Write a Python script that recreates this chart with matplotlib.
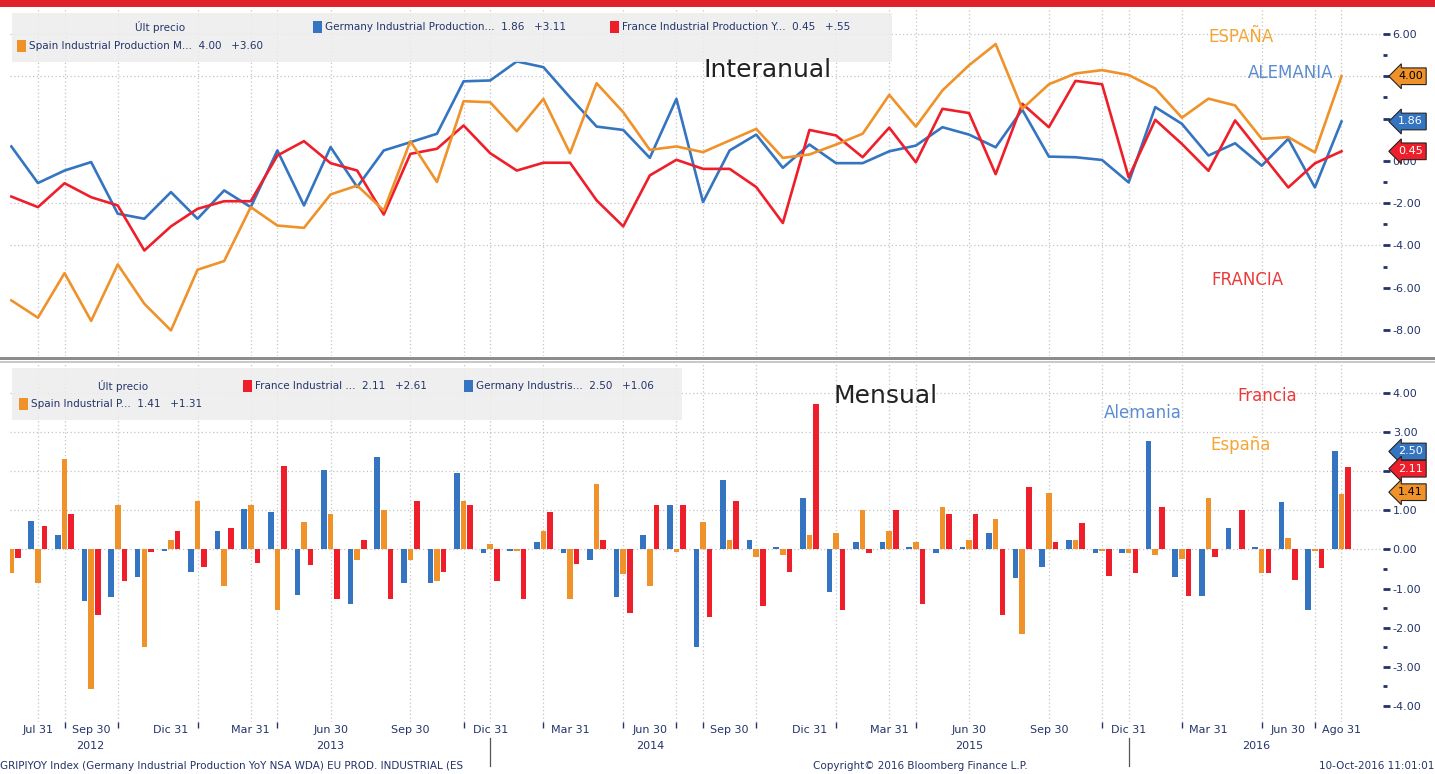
import matplotlib
matplotlib.use('Agg')
import matplotlib.pyplot as plt
from matplotlib.patches import Rectangle
from matplotlib.transforms import blended_transform_factory
import numpy as np

# monthly data, Jun 2012 .. Aug 2016 (index 0 .. 50)
germany_yoy = [0.68, -1.05, -0.46, -0.06, -2.5, -2.74, -1.48, -2.74, -1.4, -2.19,
               0.49, -2.11, 0.65, -1.24, 0.49, 0.88, 1.28, 3.76, 3.8, 4.7,
               4.43, 3.0, 1.62, 1.46, 0.14, 2.93, -1.95, 0.49, 1.24, -0.33,
               0.77, -0.11, -0.11, 0.45, 0.72, 1.59, 1.24, 0.64, 2.42, 0.2,
               0.17, 0.04, -1.02, 2.54, 1.75, 0.25, 0.83, -0.23, 1.04, -1.26, 1.86]
france_yoy = [-1.69, -2.19, -1.06, -1.72, -2.11, -4.24, -3.1, -2.27, -1.91, -1.91,
              0.25, 0.93, -0.11, -0.46, -2.54, 0.33, 0.57, 1.67, 0.36, -0.46,
              -0.09, -0.09, -1.87, -3.1, -0.69, 0.05, -0.38, -0.38, -1.24, -2.94,
              1.46, 1.2, 0.17, 1.57, -0.07, 2.46, 2.26, -0.63, 2.7, 1.59,
              3.78, 3.62, -0.78, 1.94, 0.8, -0.47, 1.91, 0.32, -1.26, -0.12, 0.45]
spain_yoy = [-6.6, -7.42, -5.31, -7.57, -4.9, -6.76, -8.02, -5.15, -4.74, -2.19,
             -3.06, -3.17, -1.59, -1.17, -2.35, 0.93, -1.0, 2.82, 2.77, 1.4,
             2.93, 0.36, 3.67, 2.3, 0.52, 0.68, 0.41, 0.96, 1.51, 0.14,
             0.3, 0.77, 1.28, 3.12, 1.62, 3.33, 4.52, 5.52, 2.46, 3.62,
             4.13, 4.29, 4.06, 3.42, 2.04, 2.94, 2.62, 1.04, 1.12, 0.4, 4.0]

germany_mom = [0.3, 0.73, 0.37, -1.33, -1.22, -0.7, -0.03, -0.57, 0.48, 1.02,
               0.96, -1.16, 2.02, -1.39, 2.36, -0.87, -0.87, 1.95, -0.1, -0.04,
               0.19, -0.1, -0.27, -1.22, 0.37, 1.13, -2.5, 1.78, 0.24, 0.07,
               1.3, -1.09, 0.19, 0.19, 0.07, -0.1, 0.07, 0.42, -0.74, -0.45,
               0.23, -0.1, -0.1, 2.78, -0.7, -1.2, 0.55, 0.05, 1.2, -1.55, 2.5]
spain_mom = [-0.61, -0.87, 2.3, -3.57, 1.13, -2.5, 0.24, 1.24, -0.93, 1.13,
             -1.56, 0.71, 0.9, -0.27, 1.0, -0.27, -0.81, 1.24, 0.14, -0.03,
             0.48, -1.27, 1.66, -0.63, -0.93, -0.08, 0.71, 0.24, -0.2, -0.14,
             0.37, 0.42, 1.0, 0.48, 0.19, 1.07, 0.24, 0.77, -2.16, 1.43,
             0.23, -0.05, -0.1, -0.15, -0.25, 1.3, 0.02, -0.6, 0.3, -0.05, 1.41]
france_mom = [-0.21, 0.6, 0.9, -1.68, -0.81, -0.06, 0.48, -0.46, 0.54, -0.34,
              2.12, -0.4, -1.27, 0.24, -1.27, 1.24, -0.57, 1.13, -0.81, -1.27,
              0.96, -0.38, 0.24, -1.63, 1.13, 1.13, -1.74, 1.24, -1.44, -0.57,
              3.7, -1.56, -0.1, 1.0, -1.39, 0.9, 0.9, -1.68, 1.6, 0.2,
              0.67, -0.68, -0.6, 1.08, -1.2, -0.2, 1.0, -0.6, -0.78, -0.48, 2.11]

tick_months = [1, 3, 6, 9, 12, 15, 18, 21, 24, 27, 30, 33, 36, 39, 42, 45, 48, 50]
tick_labels = ['Jul 31', 'Sep 30', 'Dic 31', 'Mar 31', 'Jun 30', 'Sep 30', 'Dic 31',
               'Mar 31', 'Jun 30', 'Sep 30', 'Dic 31', 'Mar 31', 'Jun 30', 'Sep 30',
               'Dic 31', 'Mar 31', 'Jun 30', 'Ago 31']
grid_months = [1, 2, 4, 7, 9, 10, 12, 15, 17, 18, 20, 23, 25, 26, 28, 31, 33, 34,
               36, 39, 41, 42, 44, 47, 49, 50]
years = ['2012', '2013', '2014', '2015', '2016']
year_starts = [-0.05, 6, 18, 30, 42]
year_ends = [6, 18, 30, 42, 51.56]

BLUE = '#3474c0'
ORANGE = '#f0922a'
RED = '#ee1f2b'
NAVY = '#24346a'
W, H = 1435, 774


def fx(x):
    return x / W


def fy(y):
    return 1 - y / H


fig = plt.figure(figsize=(W / 100, H / 100), dpi=100)
fig.patch.set_facecolor('white')

ax1 = fig.add_axes([fx(10), fy(356), fx(1383) - fx(10), fy(9) - fy(356)])
ax2 = fig.add_axes([fx(10), fy(722), fx(1383) - fx(10), fy(363) - fy(722)])

m = np.arange(len(spain_yoy))
dotted = (0, (1, 2))

for ax in (ax1, ax2):
    ax.set_xlim(-0.05, 51.56)
    for s in ax.spines.values():
        s.set_visible(False)
    for g in grid_months:
        ax.axvline(g, color='#c4c4c4', lw=0.9, ls=dotted, zorder=0)
    ax.yaxis.tick_right()
    ax.tick_params(axis='y', which='major', direction='out', length=5, width=2,
                   color=NAVY, labelsize=8, labelcolor=NAVY, pad=2)
    ax.tick_params(axis='y', which='minor', direction='out', length=3, width=2,
                   color=NAVY)

# top panel: year over year
ax1.set_ylim(-9.23, 7.18)
for v in [6, 4, -2, -4]:
    ax1.axhline(v, xmax=1.005, color='#c4c4c4', lw=0.9, ls=dotted, zorder=0, clip_on=False)
ax1.plot(m, germany_yoy, color=BLUE, lw=1.9, zorder=3)
ax1.plot(m, france_yoy, color=RED, lw=1.9, zorder=3)
ax1.plot(m, spain_yoy, color=ORANGE, lw=1.9, zorder=3)
# labels hidden behind the last-value tags are left blank
ax1.set_yticks([6, 4, 2, 0, -2, -4, -6, -8])
ax1.set_yticklabels(['6.00', '', '', '0.00', '-2.00', '-4.00', '-6.00', '-8.00'])
ax1.set_yticks([5, 3, -1, -3, -5], minor=True)
ax1.set_xticks([])

# bottom panel: month over month
ax2.set_ylim(-4.41, 4.76)
for v in [4, 3, 2, 1, 0]:
    ax2.axhline(v, xmax=1.005, color='#c4c4c4', lw=0.9, ls=dotted, zorder=0, clip_on=False)
bw = 0.21
ax2.bar(m - 0.25, germany_mom, width=bw, color=BLUE, zorder=3)
ax2.bar(m, spain_mom, width=bw, color=ORANGE, zorder=3)
ax2.bar(m + 0.25, france_mom, width=bw, color=RED, zorder=3)
ax2.set_yticks([4, 3, 2, 1, 0, -1, -2, -3, -4])
ax2.set_yticklabels(['4.00', '3.00', '', '1.00', '0.00', '-1.00', '-2.00', '-3.00', '-4.00'])
ax2.set_yticks([-0.5, -1.5, -2.5, -3.5], minor=True)
ax2.set_xticks(tick_months)
ax2.set_xticklabels(tick_labels)
ax2.set_xticks(grid_months, minor=True)
ax2.tick_params(axis='x', which='major', length=0, labelsize=8, labelcolor=NAVY, pad=2)
ax2.tick_params(axis='x', which='minor', direction='out', length=4, width=1, color=NAVY)

# year labels and separators under the axis
tr = blended_transform_factory(ax2.transData, fig.transFigure)
for yr, a, b in zip(years, year_starts, year_ends):
    fig.text(0, fy(746), yr, fontsize=8, color=NAVY, ha='center', va='center',
             transform=tr, position=((a + b) / 2, fy(746)))
for sep in [18, 42]:
    ax2.plot([sep, sep], [fy(738), fy(766)], color='#555555', lw=0.9,
             transform=tr, clip_on=False)


# last value tags on the right axis
def tag(ax, y, txt, color, tcolor):
    ax.text(1.011, y, txt, transform=ax.get_yaxis_transform(), fontsize=8,
            color=tcolor, ha='left', va='center', zorder=6, clip_on=False,
            bbox=dict(boxstyle='larrow,pad=0.3', fc=color, ec='#222222', lw=0.8))


tag(ax1, 4.0, '4.00', ORANGE, 'black')
tag(ax1, 1.86, '1.86', BLUE, 'white')
tag(ax1, 0.45, '0.45', RED, 'white')
tag(ax2, 2.5, '2.50', BLUE, 'white')
tag(ax2, 2.06, '2.11', RED, 'white')
tag(ax2, 1.46, '1.41', ORANGE, 'black')

# panel titles and country labels
fig.text(fx(768), fy(70), 'Interanual', fontsize=18, color='#222222', ha='center', va='center')
fig.text(fx(886), fy(396), 'Mensual', fontsize=18, color='#222222', ha='center', va='center')
fig.text(fx(1241), fy(37), 'ESPAÑA', fontsize=12, color='#f5a535', ha='center', va='center')
fig.text(fx(1291), fy(73), 'ALEMANIA', fontsize=12, color='#5b8bd0', ha='center', va='center')
fig.text(fx(1247), fy(280), 'FRANCIA', fontsize=12, color='#ec3a3a', ha='center', va='center')
fig.text(fx(1143), fy(413), 'Alemania', fontsize=12, color='#5b8bd0', ha='center', va='center')
fig.text(fx(1267), fy(396), 'Francia', fontsize=12, color='#ec3a3a', ha='center', va='center')
fig.text(fx(1241), fy(445), 'España', fontsize=12, color='#f5a535', ha='center', va='center')

# legend boxes
fig.add_artist(Rectangle((fx(12), fy(62)), fx(892) - fx(12), fy(13) - fy(62),
                         fc='#ededed', ec='none', alpha=0.85, zorder=2))
fig.add_artist(Rectangle((fx(12), fy(420)), fx(682) - fx(12), fy(368) - fy(420),
                         fc='#ededed', ec='none', alpha=0.85, zorder=2))


def legend_item(x, y, color, txt):
    fig.add_artist(Rectangle((fx(x), fy(y + 6)), fx(9), 12 / H, fc=color, ec='none', zorder=3))
    fig.text(fx(x + 12), fy(y), txt, fontsize=7.5, color=NAVY, ha='left', va='center', zorder=4)


fig.text(fx(160), fy(27), 'Últ precio', fontsize=7.5, color=NAVY, ha='center', va='center', zorder=4)
legend_item(313, 27, BLUE, 'Germany Industrial Production...  1.86   +3.11')
legend_item(610, 27, RED, 'France Industrial Production Y...  0.45   +.55')
legend_item(17, 46, ORANGE, 'Spain Industrial Production M...  4.00   +3.60')

fig.text(fx(123), fy(386), 'Últ precio', fontsize=7.5, color=NAVY, ha='center', va='center', zorder=4)
legend_item(243, 386, RED, 'France Industrial ...  2.11   +2.61')
legend_item(464, 386, BLUE, 'Germany Industris...  2.50   +1.06')
legend_item(19, 404, ORANGE, 'Spain Industrial P...  1.41   +1.31')

# header bar and panel separator
fig.add_artist(Rectangle((0, fy(7)), 1, 7 / H, fc='#e0202a', ec='none', zorder=5))
fig.add_artist(Rectangle((0, fy(360)), 1, 3 / H, fc='#8c8c8c', ec='none', zorder=5))
fig.add_artist(Rectangle((0, fy(363)), 1, 1.5 / H, fc='#c8c8c8', ec='none', zorder=5))

# footer
fig.text(0.0, fy(766), 'GRIPIYOY Index (Germany Industrial Production YoY NSA WDA) EU PROD. INDUSTRIAL (ES',
         fontsize=7.5, color=NAVY, ha='left', va='center')
fig.text(fx(920), fy(766), 'Copyright© 2016 Bloomberg Finance L.P.', fontsize=7.5,
         color=NAVY, ha='center', va='center')
fig.text(fx(1434), fy(766), '10-Oct-2016 11:01:01', fontsize=7.5, color=NAVY,
         ha='right', va='center')

fig.savefig('out.png', dpi=100)
